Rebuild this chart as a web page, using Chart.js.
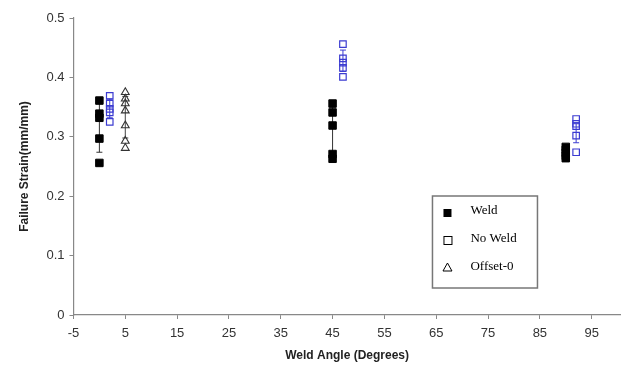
<!DOCTYPE html>
<html>
<head>
<meta charset="utf-8">
<script src="https://cdn.jsdelivr.net/npm/chart.js@4"></script>
<style>
  html, body { margin: 0; padding: 0; background: #fff; overflow: hidden; width: 621px; height: 365px; }
  canvas { display: block; }
</style>
</head>
<body>
<canvas id="chart" width="627" height="365"></canvas>
<script>
// values
const weldAngle = [0, 0, 0, 0, 0, 45, 45, 45, 45, 45, 90, 90, 90, 90, 90];
const weldStrain = [0.361, 0.339, 0.332, 0.297, 0.256, 0.356, 0.341, 0.319, 0.271, 0.263, 0.283, 0.278, 0.273, 0.268, 0.264];

const noWeldAngle = [2, 2, 2, 2, 2, 47, 47, 47, 47, 47, 92, 92, 92, 92, 92];
const noWeldStrain = [0.369, 0.356, 0.347, 0.341, 0.325, 0.456, 0.432, 0.425, 0.416, 0.401, 0.330, 0.322, 0.318, 0.302, 0.274];

const offsetAngle = [5, 5, 5, 5, 5, 5, 5];
const offsetStrain = [0.375, 0.364, 0.356, 0.344, 0.319, 0.293, 0.281];

// error bars (low / high) per group
const weldErrAngle = [0, 45, 90];
const weldErrLow = [0.274, 0.27, 0.266];
const weldErrHigh = [0.36, 0.35, 0.282];

const noWeldErrAngle = [2, 47, 92];
const noWeldErrLow = [0.332, 0.41, 0.29];
const noWeldErrHigh = [0.364, 0.446, 0.322];

const offsetErrAngle = [5];
const offsetErrLow = [0.298];
const offsetErrHigh = [0.368];

const xTicks = [-5, 5, 15, 25, 35, 45, 55, 65, 75, 85, 95];
const yTicks = [0, 0.1, 0.2, 0.3, 0.4, 0.5];

const blue = '#3b3bd1';

function pts(xs, ys) {
    return xs.map((x, i) => ({ x: x, y: ys[i] }));
}

const errorBars = {
    id: 'errorBars',
    beforeDatasetsDraw(chart) {
        const ctx = chart.ctx;
        const xs = chart.scales.x, ys = chart.scales.y;
        chart.data.datasets.forEach(ds => {
            if (!ds.err) return;
            ctx.save();
            ctx.strokeStyle = ds.errColor;
            ctx.lineWidth = 1;
            ds.err.x.forEach((a, i) => {
                const px = xs.getPixelForValue(a);
                const lo = ys.getPixelForValue(ds.err.low[i]);
                const hi = ys.getPixelForValue(ds.err.high[i]);
                ctx.beginPath();
                ctx.moveTo(px, lo); ctx.lineTo(px, hi);
                ctx.moveTo(px - 3, lo); ctx.lineTo(px + 3, lo);
                ctx.moveTo(px - 3, hi); ctx.lineTo(px + 3, hi);
                ctx.stroke();
            });
            ctx.restore();
        });
    }
};

const boxLegend = {
    id: 'boxLegend',
    afterDraw(chart) {
        const ctx = chart.ctx;
        const area = chart.chartArea;
        const left = area.left + 359, top = area.top + 178;
        const w = 105, h = 92;
        ctx.save();
        ctx.strokeStyle = '#777';
        ctx.lineWidth = 1.5;
        ctx.strokeRect(left, top, w, h);
        ctx.font = '13px "Liberation Serif", "Times New Roman", serif';
        ctx.textBaseline = 'middle';
        chart.data.datasets.forEach((ds, i) => {
            const y = top + 16 + i * 28;
            ctx.fillStyle = '#000';
            ctx.fillText(ds.label, left + 38, y - 1);
            ctx.strokeStyle = '#000';
            ctx.lineWidth = 1;
            const mx = left + 15;
            if (ds.pointStyle === 'triangle') {
                ctx.beginPath();
                ctx.moveTo(mx, y - 5); ctx.lineTo(mx + 4.5, y + 3); ctx.lineTo(mx - 4.5, y + 3);
                ctx.closePath();
                ctx.stroke();
            } else if (i === 0) {
                ctx.fillStyle = '#000';
                ctx.fillRect(mx - 4, y - 3, 8, 8);
            } else {
                ctx.strokeRect(mx - 3.5, y - 3.5, 8, 8);
            }
        });
        ctx.restore();
    }
};

new Chart(document.getElementById('chart'), {
    type: 'scatter',
    data: {
        datasets: [
            {
                label: 'Weld',
                data: pts(weldAngle, weldStrain),
                pointStyle: 'rect',
                pointRadius: 5.3,
                backgroundColor: '#000',
                borderColor: '#000',
                borderWidth: 1,
                err: { x: weldErrAngle, low: weldErrLow, high: weldErrHigh },
                errColor: '#333'
            },
            {
                label: 'No Weld',
                data: pts(noWeldAngle, noWeldStrain),
                pointStyle: 'rect',
                pointRadius: 4.6,
                backgroundColor: 'rgba(255,255,255,0)',
                borderColor: blue,
                borderWidth: 1.2,
                err: { x: noWeldErrAngle, low: noWeldErrLow, high: noWeldErrHigh },
                errColor: blue
            },
            {
                label: 'Offset-0',
                data: pts(offsetAngle, offsetStrain),
                pointStyle: 'triangle',
                pointRadius: 4.5,
                backgroundColor: 'rgba(255,255,255,0)',
                borderColor: '#333',
                borderWidth: 1.1,
                err: { x: offsetErrAngle, low: offsetErrLow, high: offsetErrHigh },
                errColor: '#444'
            }
        ]
    },
    options: {
        responsive: false,
        animation: false,
        layout: { padding: { left: 17, top: 18, right: 0, bottom: 2 } },
        plugins: {
            legend: { display: false },
            tooltip: { enabled: false }
        },
        scales: {
            x: {
                type: 'linear',
                min: -5,
                max: 100.6,
                afterBuildTicks: (s) => { s.ticks = xTicks.map(v => ({ value: v })); },
                grid: { drawOnChartArea: false, drawTicks: true, tickLength: 4, color: '#888' },
                border: { color: '#888', width: 1.2 },
                ticks: {
                    color: '#333',
                    font: { family: '"Liberation Sans", Arial, sans-serif', size: 13 },
                    padding: 7,
                    maxRotation: 0,
                    autoSkip: false
                },
                title: {
                    display: true,
                    text: 'Weld Angle (Degrees)',
                    color: '#222',
                    font: { family: '"Liberation Sans", Arial, sans-serif', size: 12, weight: 'bold' },
                    padding: { top: 0, bottom: 0 }
                }
            },
            y: {
                type: 'linear',
                min: 0,
                max: 0.5,
                afterBuildTicks: (s) => { s.ticks = yTicks.map(v => ({ value: v })); },
                grid: { drawOnChartArea: false, drawTicks: true, tickLength: 4, color: '#888' },
                border: { color: '#888', width: 1.2 },
                ticks: {
                    color: '#333',
                    font: { family: '"Liberation Sans", Arial, sans-serif', size: 13 },
                    padding: 5,
                    callback: (v) => String(Math.round(v * 10) / 10)
                },
                title: {
                    display: true,
                    text: 'Failure Strain(mm/mm)',
                    color: '#222',
                    font: { family: '"Liberation Sans", Arial, sans-serif', size: 12, weight: 'bold' },
                    padding: { top: 0, bottom: 10 }
                }
            }
        }
    },
    plugins: [errorBars, boxLegend]
});
</script>
</body>
</html>
